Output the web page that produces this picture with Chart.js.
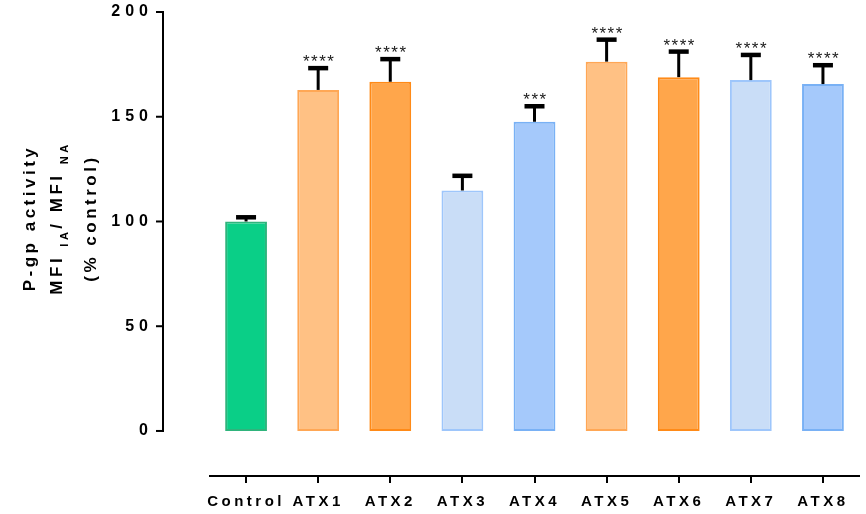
<!DOCTYPE html>
<html>
<head>
<meta charset="utf-8">
<script src="https://cdn.jsdelivr.net/npm/chart.js@4.4.1/dist/chart.umd.min.js"></script>
<style>
  html, body { margin: 0; padding: 0; background: #fff; }
  canvas { display: block; }
</style>
</head>
<body>
<canvas id="chart" width="866" height="514"></canvas>
<script>
const categories = ['Control', 'ATX1', 'ATX2', 'ATX3', 'ATX4', 'ATX5', 'ATX6', 'ATX7', 'ATX8'];
const means = [100, 162.8, 166.7, 114.8, 147.6, 176.3, 168.9, 167.5, 165.6];
const sems = [2, 10.4, 10.8, 7, 7.4, 10.5, 12.2, 12, 9];
const stars = ['', '****', '****', '', '***', '****', '****', '****', '****'];
const yTicks = [0, 50, 100, 150, 200];

const fills = ['#0acf87', '#ffc184', '#ffa64b', '#c9ddf7', '#a5c9fb', '#ffc184', '#ffa64b', '#c9ddf7', '#a5c9fb'];
const borders = ['#2fb47c', '#ffa755', '#ff8a17', '#9ec6fb', '#79b1f5', '#ffa755', '#ff8a17', '#9ec6fb', '#79b1f5'];

const FONT = '"Liberation Sans", Arial, sans-serif';

// error bars (upper only), significance stars, offset y axis and its title
const prismPlugin = {
  id: 'prism',
  beforeDraw(chart) {
    // y tick labels are drawn under the datasets, with wider spacing
    chart.ctx.letterSpacing = '5px';
  },
  afterDatasetsDraw(chart) {
    const ctx = chart.ctx;
    const x = chart.scales.x, y = chart.scales.y;
    ctx.save();
    ctx.strokeStyle = '#000';
    ctx.fillStyle = '#1a1a1a';
    means.forEach((m, i) => {
      const cx = x.getPixelForValue(i);
      const yTop = y.getPixelForValue(m);
      const yCap = y.getPixelForValue(m + sems[i]);
      ctx.lineWidth = 3;
      ctx.beginPath();
      ctx.moveTo(cx, yTop);
      ctx.lineTo(cx, yCap);
      ctx.stroke();
      ctx.lineWidth = 4.5;
      ctx.beginPath();
      ctx.moveTo(cx - 10, yCap);
      ctx.lineTo(cx + 10, yCap);
      ctx.stroke();
      if (stars[i]) {
        ctx.letterSpacing = '1.5px';
        ctx.font = '17px ' + FONT;
        ctx.textAlign = 'center';
        ctx.textBaseline = 'alphabetic';
        ctx.fillText(stars[i], cx + 1, yCap - 1);
      }
    });
    ctx.restore();
    // x tick labels follow (ticks.z = 1)
    ctx.letterSpacing = '3.5px';
  },
  afterDraw(chart) {
    const ctx = chart.ctx;
    const y = chart.scales.y;
    const ax = chart.chartArea.left - 47;
    ctx.save();
    ctx.strokeStyle = '#000';
    ctx.lineWidth = 2;
    ctx.beginPath();
    ctx.moveTo(ax, y.getPixelForValue(yTicks[yTicks.length - 1]) - 1);
    ctx.lineTo(ax, y.getPixelForValue(0) + 1);
    ctx.stroke();
    yTicks.forEach(v => {
      const py = y.getPixelForValue(v);
      ctx.beginPath();
      ctx.moveTo(ax - 7, py);
      ctx.lineTo(ax, py);
      ctx.stroke();
    });

    // rotated axis title, three lines
    ctx.fillStyle = '#000';
    ctx.letterSpacing = '3.5px';
    const cy = 218;
    const big = 'bold 17px ' + FONT;
    const small = 'bold 11px ' + FONT;

    ctx.save();
    ctx.translate(35, cy);
    ctx.rotate(-Math.PI / 2);
    ctx.font = big;
    ctx.textAlign = 'center';
    ctx.fillText('P-gp activity', 0, 0);
    ctx.restore();

    const parts = [['MFI ', big, 0], ['IA', small, 6], ['/ MFI ', big, 0], ['NA', small, 6]];
    let total = 0;
    parts.forEach(p => { ctx.font = p[1]; total += ctx.measureText(p[0]).width; });
    ctx.save();
    ctx.translate(62, cy);
    ctx.rotate(-Math.PI / 2);
    ctx.textAlign = 'left';
    let pos = -total / 2;
    parts.forEach(p => {
      ctx.font = p[1];
      ctx.fillText(p[0], pos, p[2]);
      pos += ctx.measureText(p[0]).width;
    });
    ctx.restore();

    ctx.save();
    ctx.translate(96, cy);
    ctx.rotate(-Math.PI / 2);
    ctx.font = big;
    ctx.textAlign = 'center';
    ctx.fillText('(% control)', 0, 0);
    ctx.restore();
    ctx.restore();
  }
};

new Chart(document.getElementById('chart'), {
  type: 'bar',
  data: {
    labels: categories,
    datasets: [{
      data: means,
      backgroundColor: fills,
      borderColor: borders,
      borderWidth: 2,
      borderSkipped: false,
      barPercentage: 0.58,
      categoryPercentage: 1
    }]
  },
  options: {
    responsive: false,
    animation: false,
    layout: { padding: { top: 12, right: 7, left: 0, bottom: 0 } },
    plugins: {
      legend: { display: false },
      tooltip: { enabled: false }
    },
    scales: {
      x: {
        offset: true,
        grid: {
          display: true,
          drawOnChartArea: false,
          drawTicks: true,
          tickLength: 7,
          offset: false,
          color: '#000',
          lineWidth: 2
        },
        border: { display: true, color: '#000', width: 2 },
        ticks: {
          z: 1,
          color: '#000',
          font: { family: FONT, size: 15, weight: 'bold' },
          autoSkip: false,
          maxRotation: 0,
          padding: 10
        },
        afterFit(scale) { scale.height = 38; }
      },
      y: {
        min: -21.5,
        max: 200,
        grid: { display: false },
        border: { display: false },
        ticks: {
          color: '#000',
          font: { family: FONT, size: 16, weight: 'bold' },
          padding: 49
        },
        afterBuildTicks(scale) {
          scale.ticks = yTicks.map(v => ({ value: v }));
        },
        afterFit(scale) {
          // the big label padding only pushes labels left, not the area down
          scale.width = 210;
          scale.paddingTop = 0;
          scale.paddingBottom = 0;
        }
      }
    }
  },
  plugins: [prismPlugin]
});
</script>
</body>
</html>
